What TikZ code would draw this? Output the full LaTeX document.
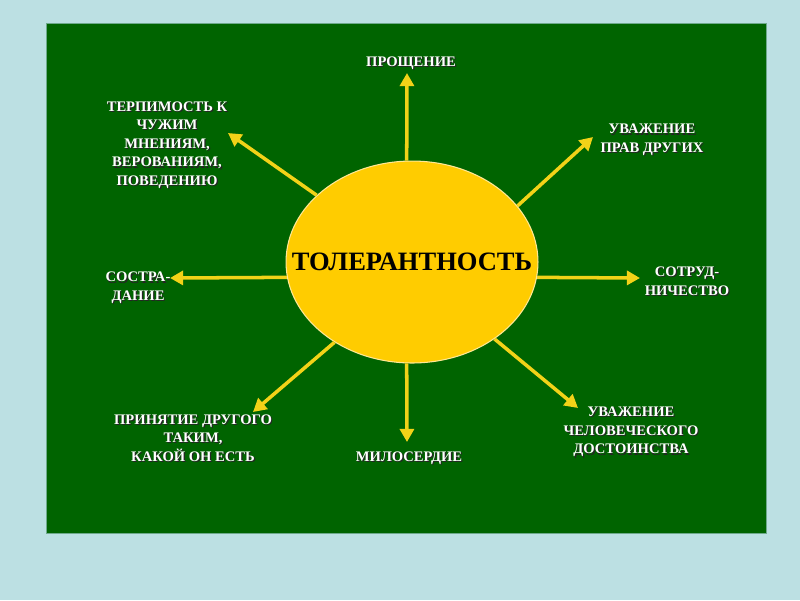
\documentclass[tikz,border=0pt]{standalone}
\usepackage{fontspec}
\setmainfont{Liberation Serif}
\usetikzlibrary{arrows.meta, calc, shapes.geometric}

\definecolor{bgblue}{RGB}{188,224,227}
\definecolor{boardgreen}{RGB}{0,100,0}
\definecolor{boardedge}{RGB}{110,170,140}
\definecolor{sunyellow}{RGB}{255,204,0}
\definecolor{rimyellow}{RGB}{255,232,150}
\definecolor{rayyellow}{RGB}{242,210,24}

% white label with a dark drop shadow
\newcommand{\raylabel}[3]{%
  \node[lblshadow] (#1-s) at ($(#2)+(1.2,1.2)$) {#3};
  \node[lbl] (#1) at (#2) {#3};}

\begin{document}
\begin{tikzpicture}[x=0.02cm, y=-0.02cm,
    ray/.style={draw=rayyellow, line width=2pt, -{Triangle[length=7.5pt,width=8pt]}},
    lbl/.style={text=white, font=\bfseries\fontsize{8.3}{10.6}\selectfont, align=center, inner sep=0pt},
    lblshadow/.style={lbl, text=black!85},
    sun/.style={ellipse, fill=sunyellow, draw=rimyellow, line width=0.6pt, inner sep=0pt,
      minimum width=5.04cm, minimum height=4.04cm}]
  \useasboundingbox (0,0) rectangle (800,600);

  \fill[bgblue] (0,0) rectangle (800,600);
  \filldraw[fill=boardgreen, draw=boardedge, line width=0.5pt] (46.5,23.5) rectangle (766.5,533);

  \node[sun] (tol) at (412,262)
    {\makebox[0pt]{\fontsize{15.1}{16}\selectfont\bfseries ТОЛЕРАНТНОСТЬ}};

  % arrow tips
  \coordinate (tipN) at (407,73);
  \coordinate (tipNE) at (593,137);
  \coordinate (tipE) at (640,278);
  \coordinate (tipSE) at (578,408);
  \coordinate (tipS) at (407,442);
  \coordinate (tipSW) at (253,412);
  \coordinate (tipW) at (170,278);
  \coordinate (tipNW) at (228,133);

  \foreach \a/\t in {93/tipN, 28/tipNE, -7/tipE, -43/tipSE, -93/tipS, -134/tipSW, 187/tipW, 145/tipNW}
    \draw[ray] (tol.\a) -- (\t);

  \raylabel{prosh}{411,63}{ПРОЩЕНИЕ}
  \raylabel{uvprav}{652,140}{УВАЖЕНИЕ\\ПРАВ ДРУГИХ}
  \raylabel{sotr}{687,281}{СОТРУД-\\НИЧЕСТВО}
  \raylabel{uvdost}{631,432}{УВАЖЕНИЕ\\ЧЕЛОВЕЧЕСКОГО\\ДОСТОИНСТВА}
  \raylabel{milos}{409,458}{МИЛОСЕРДИЕ}
  \raylabel{prin}{193,438}{ПРИНЯТИЕ ДРУГОГО\\ТАКИМ,\\КАКОЙ ОН ЕСТЬ}
  \raylabel{sostr}{138,288}{СОСТРА-\\ДАНИЕ}
  \raylabel{terp}{167,145}{ТЕРПИМОСТЬ К\\ЧУЖИМ\\МНЕНИЯМ,\\ВЕРОВАНИЯМ,\\ПОВЕДЕНИЮ}
\end{tikzpicture}
\end{document}
